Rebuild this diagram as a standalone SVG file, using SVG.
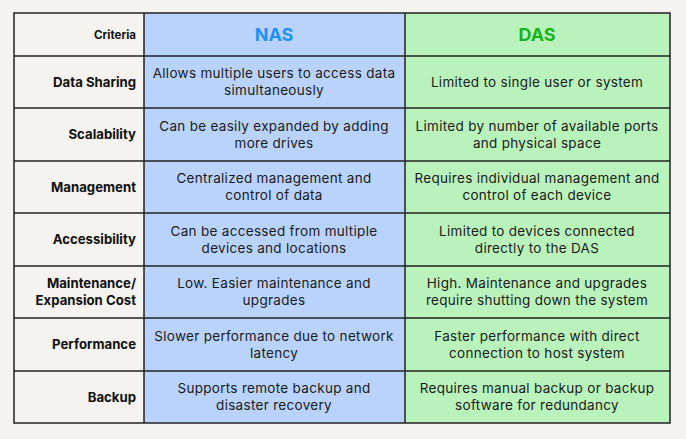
<svg xmlns="http://www.w3.org/2000/svg" width="686" height="439" viewBox="0 0 686 439">
<style>
.c{font-family:"Inter","Liberation Sans",sans-serif;font-size:13.5px;letter-spacing:0.3px;fill:#1a1a1a;text-anchor:middle}
.l{font-family:"Inter","Liberation Sans",sans-serif;font-size:13.2px;font-weight:700;fill:#111;text-anchor:end}
.h{font-family:"Inter","Liberation Sans",sans-serif;font-size:18px;font-weight:700;text-anchor:middle}
.g line{stroke:#222;stroke-width:1.5}
</style>
<rect width="686" height="439" fill="#f4f3ef"/>
<rect x="144" y="13" width="261" height="410" fill="#b9d3fc"/>
<rect x="405" y="13" width="265" height="410" fill="#baf2bc"/>
<g class="g" id="grid">
<rect x="14" y="13" width="656" height="410" fill="none" stroke="#222" stroke-width="1.5"/>
<line x1="144" y1="13" x2="144" y2="423"/><line x1="405" y1="13" x2="405" y2="423"/>
<line x1="14" y1="56" x2="670" y2="56"/><line x1="14" y1="108" x2="670" y2="108"/>
<line x1="14" y1="161" x2="670" y2="161"/><line x1="14" y1="213" x2="670" y2="213"/>
<line x1="14" y1="266" x2="670" y2="266"/><line x1="14" y1="318" x2="670" y2="318"/>
<line x1="14" y1="371" x2="670" y2="371"/>
</g>
<g id="header">
<text class="l" x="136" y="39" style="font-size:11.5px">Criteria</text>
<text class="h" x="274" y="41" fill="#1f8ff0">NAS</text>
<text class="h" x="537" y="41" fill="#17b41c">DAS</text>
</g>
<g id="r1"><text class="l" x="136" y="87">Data Sharing</text>
<text class="c" x="274" y="78">Allows multiple users to access data</text><text class="c" x="274" y="95">simultaneously</text>
<text class="c" x="537" y="87">Limited to single user or system</text></g>
<g id="r2"><text class="l" x="136" y="139">Scalability</text>
<text class="c" x="274" y="131">Can be easily expanded by adding</text><text class="c" x="274" y="148">more drives</text>
<text class="c" x="537" y="131">Limited by number of available ports</text><text class="c" x="537" y="148">and physical space</text></g>
<g id="r3"><text class="l" x="136" y="192">Management</text>
<text class="c" x="274" y="183">Centralized management and</text><text class="c" x="274" y="200">control of data</text>
<text class="c" x="537" y="183">Requires individual management and</text><text class="c" x="537" y="200">control of each device</text></g>
<g id="r4"><text class="l" x="136" y="244">Accessibility</text>
<text class="c" x="274" y="236">Can be accessed from multiple</text><text class="c" x="274" y="253">devices and locations</text>
<text class="c" x="537" y="236">Limited to devices connected</text><text class="c" x="537" y="253">directly to the DAS</text></g>
<g id="r5"><text class="l" x="136" y="288">Maintenance/</text><text class="l" x="136" y="305">Expansion Cost</text>
<text class="c" x="274" y="288">Low. Easier maintenance and</text><text class="c" x="274" y="305">upgrades</text>
<text class="c" x="537" y="288">High. Maintenance and upgrades</text><text class="c" x="537" y="305">require shutting down the system</text></g>
<g id="r6"><text class="l" x="136" y="349">Performance</text>
<text class="c" x="274" y="341">Slower performance due to network</text><text class="c" x="274" y="358">latency</text>
<text class="c" x="537" y="341">Faster performance with direct</text><text class="c" x="537" y="358">connection to host system</text></g>
<g id="r7"><text class="l" x="136" y="402">Backup</text>
<text class="c" x="274" y="393">Supports remote backup and</text><text class="c" x="274" y="410">disaster recovery</text>
<text class="c" x="537" y="393">Requires manual backup or backup</text><text class="c" x="537" y="410">software for redundancy</text></g>
</svg>
